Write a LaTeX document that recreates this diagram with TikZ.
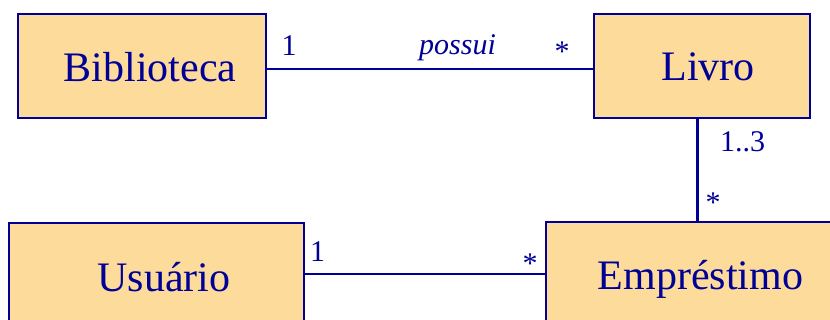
\documentclass[tikz,border=0pt]{standalone}
\usepackage{fontspec}
\setmainfont{Liberation Serif}
\definecolor{umlblue}{RGB}{0,0,150}
\definecolor{umlfill}{RGB}{253,219,155}
\tikzset{
  classbox/.style={draw=umlblue, line width=1.1pt, fill=umlfill, inner sep=0pt},
  classname/.style={text=umlblue, font=\fontsize{42}{42}\selectfont, anchor=base, inner sep=0pt},
  mult/.style={text=umlblue, font=\fontsize{30}{30}\selectfont, inner sep=0pt},
  assoc/.style={draw=umlblue, line width=2.4pt},
}
\begin{document}
\begin{tikzpicture}[x=1pt, y=-1pt]
\useasboundingbox (0,0) rectangle (830,320);
% classes
\node[classbox, minimum width=248pt, minimum height=104pt] (bib) at (142,66) {};
\node[classbox, minimum width=216pt, minimum height=104pt] (livro) at (702,66) {};
\node[classbox, minimum width=295pt, minimum height=104pt] (usu) at (156.5,275) {};
\node[classbox, minimum width=300pt, minimum height=104pt] (emp) at (696,274) {};
\node[classname] (bibtxt) at (150,81.5) {Biblioteca};
\node[classname] (livrotxt) at (708,81) {Livro};
\node[classname] (usutxt) at (164,292) {Usuário};
\node[classname] (emptxt) at (700.5,290) {Empréstimo};
% associations
\coordinate (bibr) at (266,69.3);
\coordinate (livrol) at (594,69.3);
\draw[assoc] (bib.east |- bibr) -- (livro.west |- livrol);
\coordinate (vx) at (697.3,0);
\draw[assoc, line width=3.4pt] (livro.south -| vx) -- (emp.north -| vx);
\coordinate (uy) at (0,274.3);
\draw[assoc] (usu.east |- uy) -- (emp.west |- uy);
% multiplicities and role names
\node[mult, anchor=base] (m1) at (289,56) {1};
\node[mult, anchor=base] (possui) at (457.5,55) {\itshape possui};
\node[mult, anchor=center] (m2) at (562,51.5) {*};
\node[mult, anchor=base] (m3) at (742.5,151.5) {1..3};
\node[mult, anchor=center] (m4) at (713,202.5) {*};
\node[mult, anchor=base] (m5) at (317.5,261.7) {1};
\node[mult, anchor=center] (m6) at (530,263.5) {*};
\end{tikzpicture}
\end{document}
